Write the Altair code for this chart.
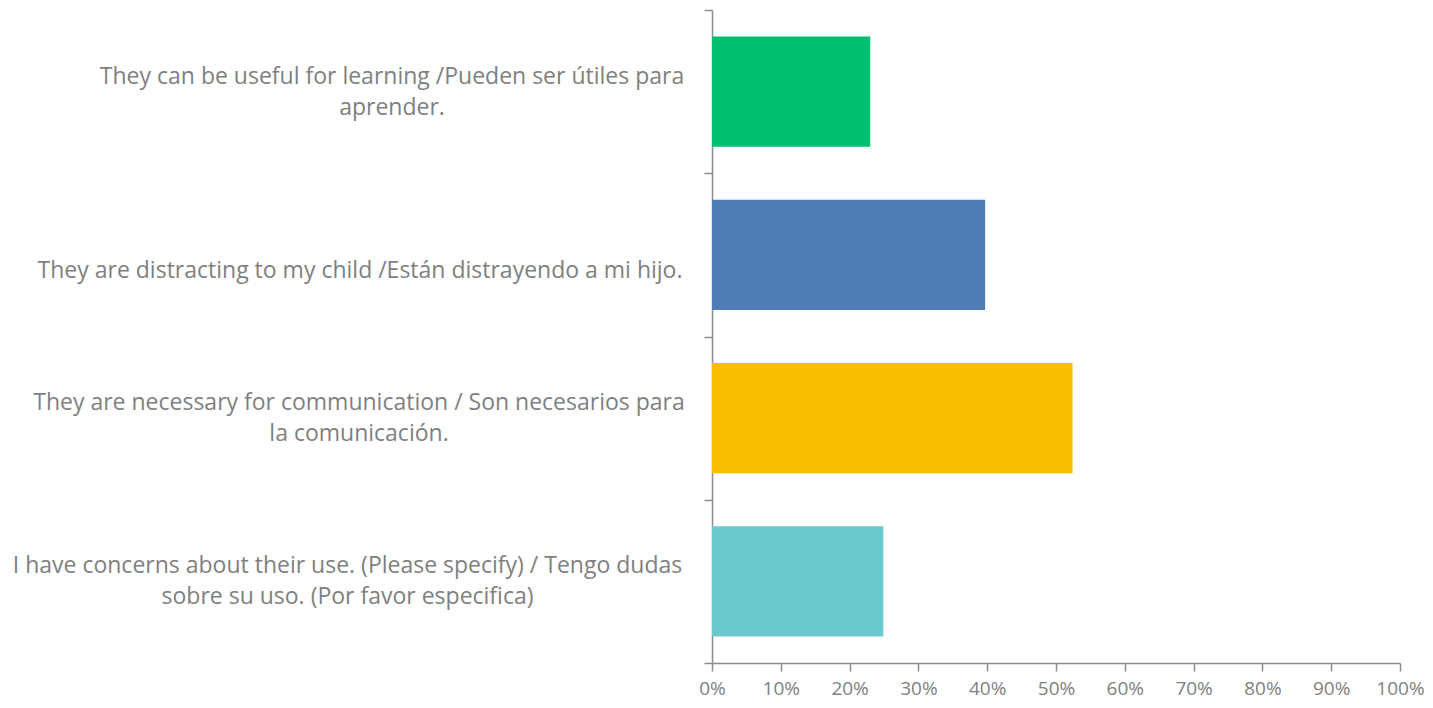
import json
import altair as alt
import pandas as pd

# ---- data ----
categories = [
    "They can be useful for learning /Pueden ser útiles para\naprender.",
    "They are distracting to my child /Están distrayendo a mi hijo.",
    "They are necessary for communication / Son necesarios para\nla comunicación.",
    "I have concerns about their use. (Please specify) / Tengo dudas\nsobre su uso. (Por favor especifica)",
]
values = [0.23, 0.397, 0.524, 0.249]
colors = ["#00BF6F", "#507CB6", "#F9BE00", "#6BC8CD"]
x_ticks = [0, 0.1, 0.2, 0.3, 0.4, 0.5, 0.6, 0.7, 0.8, 0.9, 1.0]

# label block widths (px) used to centre each wrapped label block, right edge near the axis
label_block_widths = [591, 655, 657, 680]

df = pd.DataFrame({"answer": categories, "share": values, "color": colors})

TEXT = "#7F7F7F"
AXIS = "#8C8C8C"
FONT = "Open Sans"
TICK = 8
GAP = 17
LINE_H = 31

pads = [GAP + w / 2 for w in label_block_widths]
pad_cond = {
    "condition": [
        {"test": f"datum.value === {json.dumps(c, ensure_ascii=False)}", "value": p}
        for c, p in zip(categories, pads)
    ],
    "value": pads[1],
}

label_expr = (
    "indexof(datum.label, '\\n') >= 0 ? split(datum.label, '\\n') : ['', datum.label]"
)

chart = (
    alt.Chart(df)
    .mark_bar(height={"band": 0.674})
    .encode(
        y=alt.Y(
            "answer:N",
            sort=categories,
            scale=alt.Scale(paddingInner=0, paddingOuter=0),
            axis=alt.Axis(
                title=None,
                labelExpr=label_expr,
                labelAlign="center",
                labelBaseline="middle",
                labelPadding=pad_cond,
                labelOffset=-LINE_H / 2,
                labelLineHeight=LINE_H,
                labelFont=FONT,
                labelFontSize=23,
                labelColor=TEXT,
                labelLimit=0,
                tickBand="extent",
                tickSize=TICK,
                tickColor=AXIS,
                tickWidth=1.5,
                domainColor=AXIS,
                domainWidth=1.5,
                grid=False,
            ),
        ),
        x=alt.X(
            "share:Q",
            scale=alt.Scale(domain=[0, 1]),
            axis=alt.Axis(
                title=None,
                values=x_ticks,
                format=".0%",
                labelFont=FONT,
                labelFontSize=19,
                labelColor=TEXT,
                labelPadding=8,
                tickSize=TICK,
                tickColor=AXIS,
                tickWidth=1.5,
                domainColor=AXIS,
                domainWidth=1.5,
                grid=False,
                labelFlush=False,
            ),
        ),
        color=alt.Color("color:N", scale=None, legend=None),
    )
    .properties(
        width=688,
        height=653,
        autosize=alt.AutoSizeParams(type="none"),
        padding={"left": 704, "top": 2, "right": 25, "bottom": 37},
    )
    .configure(background="white")
    .configure_view(stroke="transparent", strokeWidth=0)
)

chart.save("out.html", embed_options={"renderer": "svg", "actions": False})
